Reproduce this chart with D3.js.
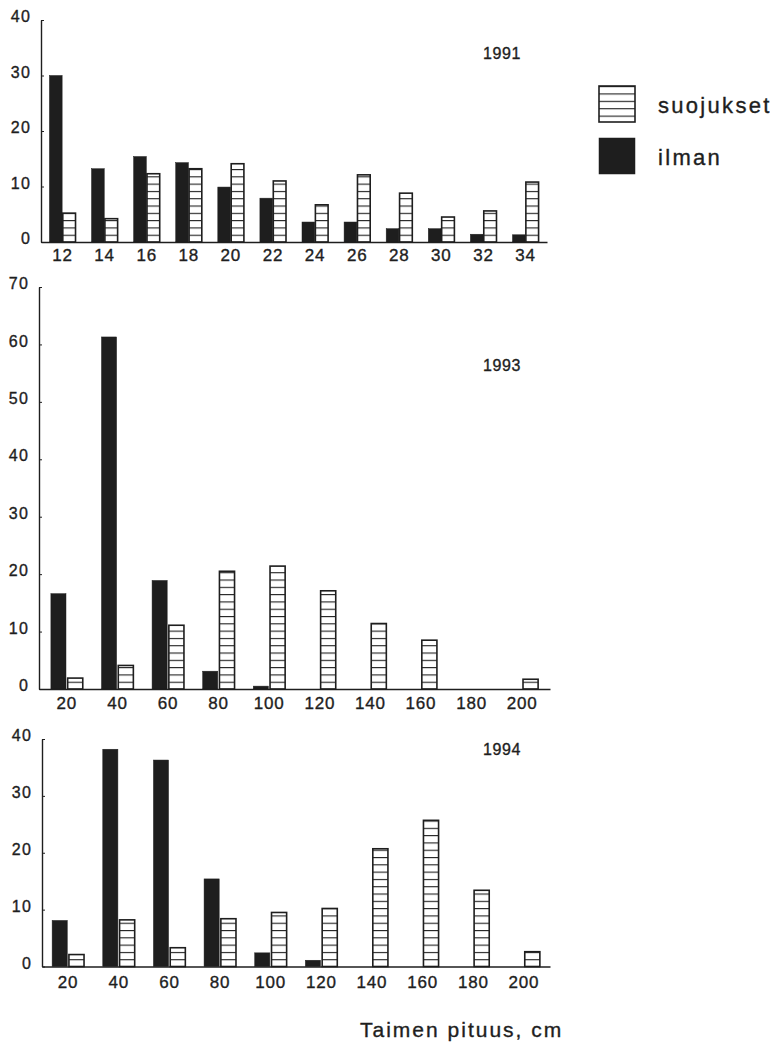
<!DOCTYPE html>
<html>
<head>
<meta charset="utf-8">
<script src="https://cdn.jsdelivr.net/npm/d3@7"></script>
<style>
  body { margin: 0; background: #fff; }
  svg { display: block; font-family: "Liberation Sans", Arial, sans-serif; }
  svg text { stroke: #1e1e1e; stroke-width: 0.35px; }
</style>
</head>
<body>
<svg id="chart" width="776" height="1046"></svg>
<script>
// data
const cats1991 = ["12","14","16","18","20","22","24","26","28","30","32","34"];
const ilman1991 = [30, 13.2, 15.4, 14.3, 9.9, 7.9, 3.6, 3.6, 2.4, 2.4, 1.4, 1.3];
const suoj1991 = [5.2, 4.2, 12.3, 13.2, 14.1, 11, 6.7, 12.1, 8.8, 4.5, 5.6, 10.8];

const cats1993 = ["20","40","60","80","100","120","140","160","180","200"];
const ilman1993 = [16.6, 61.3, 18.9, 3.1, 0.5, 0, 0, 0, 0, 0];
const suoj1993 = [1.9, 4.1, 11.1, 20.5, 21.4, 17.1, 11.4, 8.5, 0, 1.7];

const cats1994 = ["20","40","60","80","100","120","140","160","180","200"];
const ilman1994 = [8.1, 38.2, 36.3, 15.4, 2.4, 1.1, 0, 0, 0, 0];
const suoj1994 = [2.1, 8.2, 3.3, 8.4, 9.5, 10.2, 20.7, 25.7, 13.4, 2.6];

const ticks1991 = [0, 10, 20, 30, 40];
const ticks1993 = [0, 10, 20, 30, 40, 50, 60, 70];
const ticks1994 = [0, 10, 20, 30, 40];

const series = ["ilman", "suojukset"];
const ink = "#1e1e1e";

const svg = d3.select("#chart");
const defs = svg.append("defs");

function stripes(id, y0, gap) {
    const p = defs.append("pattern")
        .attr("id", id)
        .attr("patternUnits", "userSpaceOnUse")
        .attr("width", 20).attr("height", gap)
        .attr("patternTransform", "translate(0," + y0 + ")");
    p.append("rect").attr("width", 20).attr("height", gap).attr("fill", "#fff");
    p.append("line").attr("x1", 0).attr("x2", 20).attr("y1", 0.5).attr("y2", 0.5)
        .attr("stroke", ink).attr("stroke-width", 1.2);
}

function panel(o) {
    const g = svg.append("g");
    stripes("st" + o.year, o.base, 7.3);

    const y = d3.scaleLinear([0, d3.max(o.ticks)], [o.base, o.top]);
    const x = d3.scaleBand(o.cats, [o.left, o.right])
        .paddingInner(o.pI).paddingOuter(o.pO);
    const xi = d3.scaleBand(series, [0, x.bandwidth()]).paddingInner(o.gap);

    const rows = o.cats.map((c, i) => ({c: c, ilman: o.ilman[i], suojukset: o.suoj[i]}));

    const grp = g.selectAll("g.cat")
        .data(rows)
        .join("g")
        .attr("class", "cat")
        .attr("transform", d => "translate(" + x(d.c) + ",0)");

    grp.selectAll("rect")
        .data(d => series.map(k => ({k: k, v: d[k]})).filter(e => e.v > 0))
        .join("rect")
        .attr("x", d => xi(d.k))
        .attr("width", xi.bandwidth())
        .attr("y", d => y(d.v))
        .attr("height", d => o.base - y(d.v))
        .attr("fill", d => d.k === "ilman" ? ink : "url(#st" + o.year + ")")
        .attr("stroke", ink)
        .attr("stroke-width", d => d.k === "ilman" ? 0.5 : 1.6);

    const ya = g.append("g")
        .attr("transform", "translate(" + o.left + ",0)")
        .call(d3.axisLeft(y).tickValues(o.ticks).tickSizeInner(-3).tickSizeOuter(0).tickPadding(10));
    ya.select(".domain").attr("stroke", ink).attr("stroke-width", 1.4);
    ya.selectAll(".tick line").attr("stroke", ink);
    ya.selectAll("text").attr("font-size", 16).attr("letter-spacing", 1.2)
        .attr("fill", ink).attr("dy", "0.1em").attr("font-family", null);

    const xa = g.append("g")
        .attr("transform", "translate(0," + o.base + ")")
        .call(d3.axisBottom(x).tickSize(0).tickPadding(o.lp));
    xa.select(".domain").attr("stroke", ink).attr("stroke-width", 1.6);
    xa.selectAll("text").attr("font-size", 17).attr("letter-spacing", 0.8)
        .attr("fill", ink).attr("font-family", null);

    g.append("text")
        .attr("x", 502).attr("y", o.yearY)
        .attr("text-anchor", "middle")
        .attr("font-size", 16).attr("letter-spacing", 0.6)
        .attr("fill", ink)
        .text(o.year);
}

panel({year: "1991", cats: cats1991, ilman: ilman1991, suoj: suoj1991, ticks: ticks1991,
       left: 41, right: 547, base: 242, top: 20, pI: 0.38, pO: 0.2, gap: 0.05, lp: 7, yearY: 59});
panel({year: "1993", cats: cats1993, ilman: ilman1993, suoj: suoj1993, ticks: ticks1993,
       left: 39, right: 550, base: 689, top: 287, pI: 0.37, pO: 0.235, gap: 0.1, lp: 8, yearY: 371});
panel({year: "1994", cats: cats1994, ilman: ilman1994, suoj: suoj1994, ticks: ticks1994,
       left: 42, right: 550, base: 966.5, top: 739, pI: 0.37, pO: 0.2, gap: 0.1, lp: 9, yearY: 755});

// legend
stripes("stLeg", 86, 7.4);
const legend = svg.append("g");
const legItems = [
    {label: "suojukset", fill: "url(#stLeg)", y: 86, sw: 1.6},
    {label: "ilman", fill: ink, y: 138, sw: 0.5}
];
legend.selectAll("rect")
    .data(legItems)
    .join("rect")
    .attr("x", 599).attr("y", d => d.y)
    .attr("width", 36).attr("height", 36)
    .attr("fill", d => d.fill)
    .attr("stroke", ink).attr("stroke-width", d => d.sw);
legend.selectAll("text")
    .data(legItems)
    .join("text")
    .attr("x", 658).attr("y", d => d.y + 27)
    .attr("font-size", 22).attr("letter-spacing", 2.3)
    .attr("fill", ink)
    .text(d => d.label);

svg.append("text")
    .attr("x", 360).attr("y", 1037)
    .attr("font-size", 21).attr("letter-spacing", 2)
    .attr("fill", ink)
    .text("Taimen pituus, cm");
</script>
</body>
</html>
